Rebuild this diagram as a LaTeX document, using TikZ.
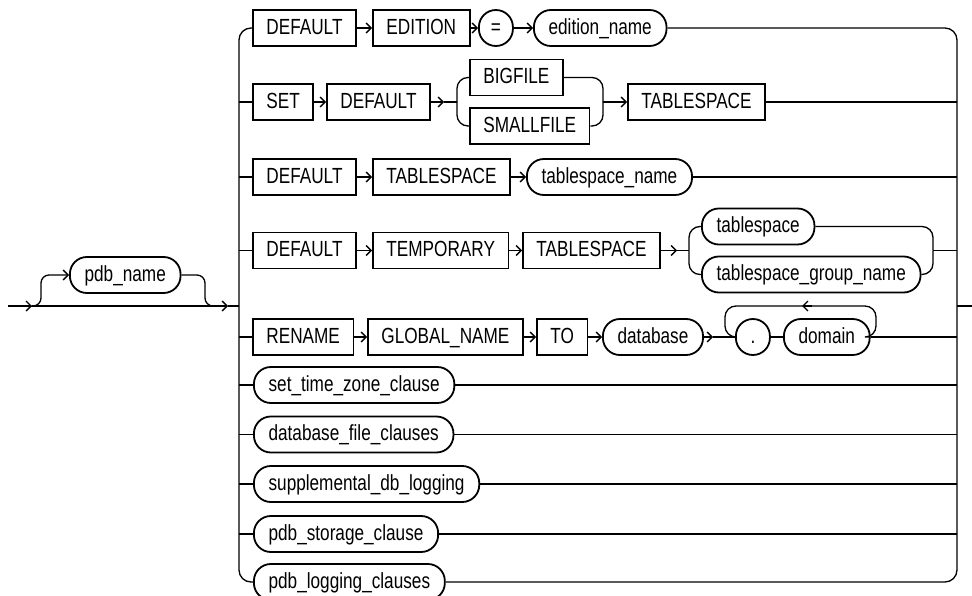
\documentclass[tikz,border=0pt]{standalone}
\usepackage{fontspec}
\setmainfont[FakeStretch=0.785]{Liberation Sans}
\usetikzlibrary{arrows.meta}
\begin{document}
\begin{tikzpicture}[x=1pt,y=-1pt,
  kw/.style={draw, line width=1.8pt, rectangle, minimum height=36pt, inner xsep=13.5pt, inner ysep=0pt,
             text height=15.7pt, text depth=3.4pt, anchor=west, font=\fontsize{21.9pt}{22pt}\selectfont},
  nt/.style={kw, rounded corners=17pt, inner xsep=14.7pt},
  sym/.style={nt, inner xsep=0pt, minimum width=34pt},
  conn/.style={line width=1.3pt},
  arr/.style={conn, -{Straight Barb[length=5pt,width=10pt]}},
  rc/.style={conn, rounded corners=#1}]
\useasboundingbox (0,0) rectangle (972,596);

% ---- left part
\coordinate (start) at (8,306);
\coordinate (a1) at (32,306);
\coordinate (a2) at (228,306);
\coordinate (L) at (239,306);
\coordinate (R) at (957,306);
\coordinate (fin) at (972,306);
\node[nt] (pdb) at (69,275) {pdb\_name};
\draw[arr] (start) -- (a1);
\draw[arr] (a1) -- (a2);
\draw[conn] (a2) -- (L);
\draw[rc=8pt, -{Straight Barb[length=5pt,width=10pt]}] (31,306) -- (41,306) -- (41,275) -- (pdb.west);
\draw[rc=8pt] (pdb.east) -- (205,275) -- (205,306) -- (215,306);
\draw[conn] (R) -- (fin);

% ---- row 1
\node[kw] (d1) at (252,28) {DEFAULT};
\node[kw] (ed) at (372,28) {EDITION};
\node[sym] (eq) at (478,28) {=};
\node[nt] (edn) at (533,28) {edition\_name};
\draw[arr] (d1) -- (ed);
\draw[arr] (ed) -- (eq);
\draw[arr] (eq) -- (edn);

% ---- row 2
\node[kw] (set) at (252,102) {SET};
\node[kw] (d2) at (326,102) {DEFAULT};
\node[kw] (big) at (469,77.5) {BIGFILE};
\node[kw] (small) at (469,126) {SMALLFILE};
\node[kw] (ts2) at (627,102) {TABLESPACE};
\coordinate (f2a) at (444,102);
\coordinate (f2) at (457,102);
\coordinate (j2) at (603,102);
\draw[arr] (set) -- (d2);
\draw[arr] (d2) -- (f2a);
\draw[conn] (f2a) -- (f2);
\draw[rc=11pt] (f2) -- (457,77.5) -- (big.west);
\draw[rc=11pt] (f2) -- (457,126) -- (small.west);
\draw[rc=11pt] (big.east) -- (603,77.5) -- (j2);
\draw[rc=11pt] (small.east) -- (603,126) -- (j2);
\draw[arr] (j2) -- (ts2);
\draw[conn] (ts2.east) -- (957,102);

% ---- row 3
\node[kw] (d3) at (252,177) {DEFAULT};
\node[kw] (ts3) at (372,177) {TABLESPACE};
\node[nt] (tsn) at (526,177) {tablespace\_name};
\draw[arr] (d3) -- (ts3);
\draw[arr] (ts3) -- (tsn);
\draw[conn] (tsn.east) -- (957,177);

% ---- row 4
\node[kw] (d4) at (252,250.5) {DEFAULT};
\node[kw] (tmp) at (372,250.5) {TEMPORARY};
\node[kw] (ts4) at (522,250.5) {TABLESPACE};
\node[nt] (tsp) at (701,226.5) {tablespace};
\node[nt] (tsg) at (701,274.5) {tablespace\_group\_name};
\coordinate (f4a) at (677,250.5);
\coordinate (f4) at (689,250.5);
\coordinate (j4) at (933,250.5);
\draw[arr] (d4) -- (tmp);
\draw[arr] (tmp) -- (ts4);
\draw[arr] (ts4) -- (f4a);
\draw[conn] (f4a) -- (f4);
\draw[rc=11pt] (f4) -- (689,226.5) -- (tsp.west);
\draw[rc=11pt] (f4) -- (689,274.5) -- (tsg.west);
\draw[rc=11pt] (tsp.east) -- (933,226.5) -- (j4);
\draw[rc=11pt] (tsg.east) -- (933,274.5) -- (j4);
\draw[conn] (j4) -- (957,250.5);

% ---- row 5
\node[kw] (ren) at (252,337) {RENAME};
\node[kw] (gn) at (367,337) {GLOBAL\_NAME};
\node[kw] (to) at (536,337) {TO};
\node[nt] (db) at (602,337) {database};
\node[sym] (dot) at (735,337) {.};
\node[nt] (dom) at (783,337) {domain};
\coordinate (a5) at (713,337);
\draw[arr] (ren) -- (gn);
\draw[arr] (gn) -- (to);
\draw[arr] (to) -- (db);
\draw[arr] (db) -- (a5);
\draw[conn] (a5) -- (dot);
\draw[conn] (dot) -- (dom);
\draw[rc=11pt] (dom.east) -- (876,337) -- (876,306) -- (725,306) -- (725,337) -- (dot.west);
\draw[arr] (812,306) -- (802,306);
\draw[conn] (dom.east) -- (957,337);

% ---- rows 6-10
\node[nt] (stz) at (253,385) {set\_time\_zone\_clause};
\node[nt] (dfc) at (253,434.5) {database\_file\_clauses};
\node[nt] (sdl) at (253,484) {supplemental\_db\_logging};
\node[nt] (psc) at (253,534) {pdb\_storage\_clause};
\node[nt] (plc) at (253,582) {pdb\_logging\_clauses};
\foreach \n/\y in {stz/385, dfc/434.5, sdl/484, psc/534}{
  \draw[conn] (239,\y) -- (\n.west);
  \draw[conn] (\n.east) -- (957,\y);
}

% ---- left stubs of middle rows
\foreach \n/\y in {set/102, d3/177, d4/250.5, ren/337}{
  \draw[conn] (239,\y) -- (\n.west);
}

% ---- big verticals
\draw[rc=12pt] (d1.west) -- (239,28) -- (239,582) -- (plc.west);
\draw[rc=12pt] (edn.east) -- (957,28) -- (957,582) -- (plc.east);
\end{tikzpicture}
\end{document}
